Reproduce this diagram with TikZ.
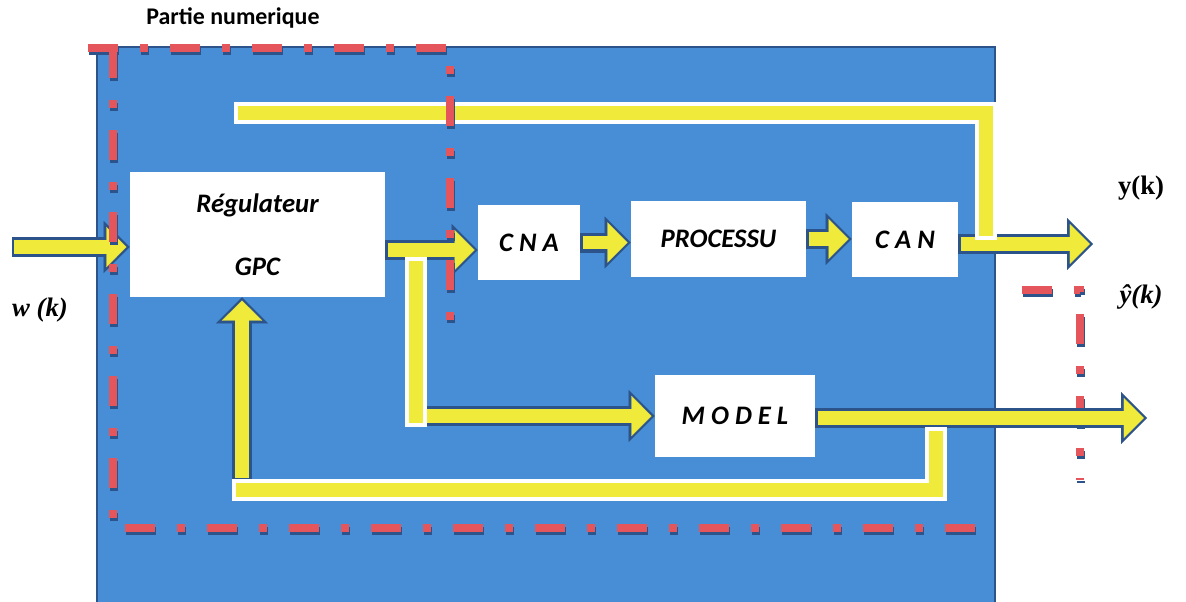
\documentclass[tikz,border=0pt]{standalone}
\usepackage{fontspec}
\setsansfont{Carlito}
\newfontfamily\labfont{Liberation Serif}
\usepackage{tikz}
\usetikzlibrary{arrows.meta,positioning}

\definecolor{bluebg}{RGB}{72,142,214}
\definecolor{edge}{RGB}{44,84,138}
\definecolor{yel}{RGB}{240,234,58}
\definecolor{redline}{RGB}{228,86,92}

\begin{document}
\begin{tikzpicture}[x=0.025cm, y=-0.025cm,
    block/.style={rectangle, fill=white, inner sep=0pt, align=center, font=\sffamily\bfseries\itshape\fontsize{19}{23}\selectfont},
    flowback/.style={draw=edge, line width=0.5cm, -{Triangle[length=0.65cm, width=1.3cm, line width=0.1pt]}},
    flowfront/.style={draw=yel, line width=0.34cm, -{Triangle[length=0.5cm, width=1.0cm, line width=0.1pt]}, shorten >=0.08cm, shorten <=0.06cm},
    pipeback/.style={draw=white, line width=0.55cm, line cap=rect},
    pipefront/.style={draw=yel, line width=0.35cm, line cap=rect},
    partline/.style={draw=redline, line width=0.18cm, dash pattern=on 0.75cm off 0.55cm on 0.2cm off 0.55cm},
    lab/.style={font=\labfont\bfseries\fontsize{19}{22}\selectfont},
    labit/.style={font=\labfont\bfseries\itshape\fontsize{19}{22}\selectfont}
]
    \useasboundingbox (0,0) rectangle (1186,601);
    % Background
    \filldraw[fill=bluebg, draw=edge, line width=0.06cm] (97,47) rectangle (995,606);

    % Blocks
    \node[block, minimum width=6.375cm, minimum height=3.125cm] (gpc) at (257.5,234.5) {R\'egulateur\\[22pt]GPC};
    \node[block, minimum width=2.55cm, minimum height=1.875cm] (cna) at (529,242.5) {C N A};
    \node[block, minimum width=4.375cm, minimum height=1.9cm] (proc) at (718.5,239) {PROCESSU};
    \node[block, minimum width=2.65cm, minimum height=1.875cm] (can) at (905,239.5) {C A N};
    \node[block, minimum width=4cm, minimum height=2.05cm] (model) at (735,416) {M O D E L};

    % Labels
    \node[font=\sffamily\bfseries\fontsize{17}{20}\selectfont] (title) at (233,18) {Partie numerique};
    \node[lab] (ylab) at (1141,188) {y(k)};
    \node[labit] (yhlab) at (1141,297) {ŷ(k)};
    \node[labit] (wlab) at (40,310) {w (k)};

    % Free ends
    \coordinate (win) at (12,247);
    \coordinate (split) at (416,250);
    \coordinate (yout) at (1093,244);
    \coordinate (yhout) at (1147,418);
    \coordinate (tapy) at (986,229);
    \coordinate (fbtop) at (245,113);
    \coordinate (tapm) at (936,438);
    \coordinate (fbbot) at (243,490);
    \coordinate (fbup) at (242,480);

    % Partie numerique frame, outer piece (under the arrow)
    \draw[partline, draw=edge, xshift=0.025cm, yshift=-0.075cm] (1022,290) -- (1080,290) -- (1080,480);
    \draw[partline] (1022,290) -- (1080,290) -- (1080,480);

    % Arrows
    \draw[flowback] (win) -- (win -| gpc.west);
    \draw[flowfront] (win) -- (win -| gpc.west);
    \draw[flowback] (gpc.east |- split) -- (cna.west |- split);
    \draw[flowfront] (gpc.east |- split) -- (cna.west |- split);
    \draw[flowback] (cna.east) -- (cna.east -| proc.west);
    \draw[flowfront] (cna.east) -- (cna.east -| proc.west);
    \draw[flowback] (proc.east) -- (proc.east -| can.west);
    \draw[flowfront] (proc.east) -- (proc.east -| can.west);
    \draw[flowback] (can.east |- yout) -- (yout);
    \draw[flowfront] (can.east |- yout) -- (yout);
    \draw[flowback] (model.east |- yhout) -- (yhout);
    \draw[flowfront] (model.east |- yhout) -- (yhout);
    \draw[flowback] ([xshift=0.2cm]split |- model.west) -- (model.west);
    \draw[flowfront] ([xshift=0.2cm]split |- model.west) -- (model.west);
    \draw[flowback] (fbup) -- (fbup |- gpc.south);
    \draw[flowfront] (fbup) -- (fbup |- gpc.south);

    % Pipes
    \draw[pipeback] ([yshift=-0.45cm]split) -- (split |- model.west);
    \draw[pipefront] ([yshift=-0.45cm]split) -- (split |- model.west);
    \draw[pipeback] (tapy) |- (fbtop);
    \draw[pipefront] (tapy) |- (fbtop);
    \draw[pipeback] (tapm) |- (fbbot);
    \draw[pipefront] (tapm) |- (fbbot);

    % Partie numerique frame
    \foreach \col/\dx/\dy in {edge/1/3, redline/0/0} {
        \draw[partline, draw=\col, xshift=\dx*0.025cm, yshift=-\dy*0.025cm] (88,48) -- (450,48) -- (450,335);
        \draw[partline, draw=\col, xshift=\dx*0.025cm, yshift=-\dy*0.025cm] (113,48) -- (113,528) -- (985,528);
    }
\end{tikzpicture}
\end{document}
